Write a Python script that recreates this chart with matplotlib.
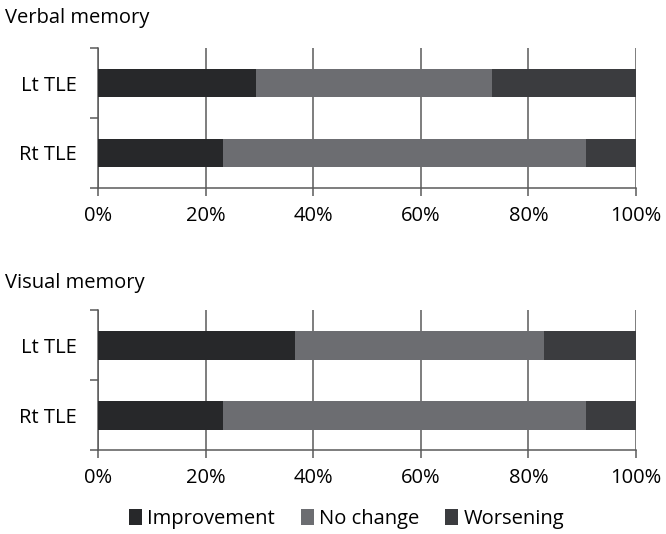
#!/usr/bin/env python3
"""Verbal / visual memory outcome after surgery, Lt vs Rt TLE (stacked 100% bars)."""
import matplotlib
matplotlib.use('Agg')
import matplotlib.pyplot as plt
from matplotlib.patches import Patch
from matplotlib.ticker import FixedLocator, PercentFormatter

plt.rcParams['font.family'] = ['Open Sans', 'DejaVu Sans']

groups = ['Lt TLE', 'Rt TLE']
outcomes = ['Improvement', 'No change', 'Worsening']
colors = ['#27282a', '#6c6d71', '#3b3c3f']

# percentages per group, in outcome order
verbal = {'Lt TLE': [29.3, 43.9, 26.8], 'Rt TLE': [23.3, 67.4, 9.3]}
visual = {'Lt TLE': [36.6, 46.3, 17.1], 'Rt TLE': [23.3, 67.4, 9.3]}

panels = [('Verbal memory', verbal), ('Visual memory', visual)]

GRID = '#5a5a5a'
FS = 14.5

fig = plt.figure(figsize=(6.66, 5.34), dpi=100)
ax_boxes = [[0.147, 0.648, 0.808, 0.262], [0.147, 0.157, 0.808, 0.262]]
title_y = [0.966, 0.470]

for (title, data), box, ty in zip(panels, ax_boxes, title_y):
    ax = fig.add_axes(box)
    ypos = list(range(len(groups)))
    left = [0.0] * len(groups)
    for k, (name, c) in enumerate(zip(outcomes, colors)):
        vals = [data[g][k] for g in groups]
        ax.barh(ypos, vals, left=left, height=0.41, color=c, linewidth=0, zorder=3)
        left = [l + v for l, v in zip(left, vals)]

    ax.set_xlim(0, 100)
    ax.set_ylim(len(groups) - 0.5, -0.5)
    ax.xaxis.set_major_locator(FixedLocator([0, 20, 40, 60, 80, 100]))
    ax.xaxis.set_major_formatter(PercentFormatter(decimals=0))
    ax.grid(axis='x', color=GRID, linewidth=1.1, zorder=0)
    ax.set_axisbelow(True)

    ax.set_yticks(ypos)
    ax.set_yticklabels(groups)
    ax.set_yticks([-0.5, 0.5, 1.5], minor=True)
    ax.tick_params(axis='y', which='major', length=0, pad=15, labelsize=FS)
    ax.tick_params(axis='y', which='minor', length=6, width=1.1, color=GRID, direction='out')
    ax.tick_params(axis='x', length=6, width=1.1, color=GRID, labelsize=FS, pad=7)

    for s in ['top', 'right']:
        ax.spines[s].set_visible(False)
    for s in ['left', 'bottom']:
        ax.spines[s].set_color(GRID)
        ax.spines[s].set_linewidth(1.1)

    fig.text(0.007, ty, title, fontsize=FS, ha='left', va='center')

handles = [Patch(facecolor=c, edgecolor='none', label=n) for n, c in zip(outcomes, colors)]
fig.legend(handles=handles, loc='center', bbox_to_anchor=(0.52, 0.028), ncol=3,
           frameon=False, fontsize=FS, handlelength=0.65, handleheight=0.85,
           handletextpad=0.25, columnspacing=1.3)

fig.savefig('out.png', dpi=100)
